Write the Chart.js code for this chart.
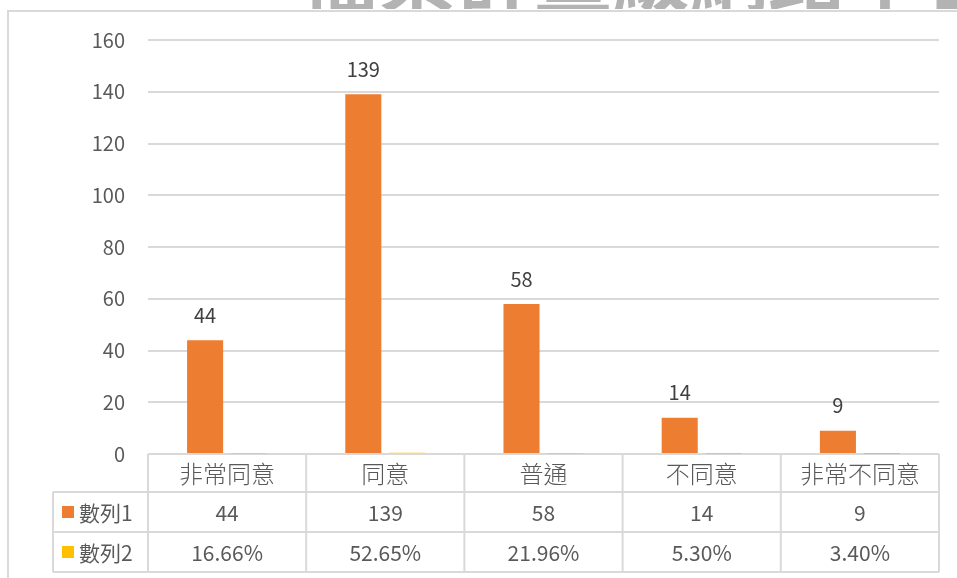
<!DOCTYPE html>
<html>
<head>
<meta charset="utf-8">
<script src="https://cdn.jsdelivr.net/npm/chart.js@4/dist/chart.umd.min.js"></script>
<style>
html,body{margin:0;padding:0;background:#fff;}
#wrap{width:957px;height:578px;position:relative;}
</style>
</head>
<body>
<div id="wrap"><canvas id="c" width="957" height="578"></canvas></div>
<script>
const categories = ['非常同意', '同意', '普通', '不同意', '非常不同意'];
const seriesNames = ['數列1', '數列2'];
const series1 = [44, 139, 58, 14, 9];
const series2 = [0.1666, 0.5265, 0.2196, 0.0530, 0.0340];
const series2Labels = ['16.66%', '52.65%', '21.96%', '5.30%', '3.40%'];
const yTicks = [0, 20, 40, 60, 80, 100, 120, 140, 160];
const watermark = '檔案計畫級網路平台';

const ORANGE = '#ED7D31', YELLOW = '#FFC000', GRID = '#d9d9d9', TXT = '#595959';
const FONT = '"Noto Sans CJK TC", "Noto Sans", sans-serif';

const framePlugin = {
  id: 'frame',
  beforeDraw(chart) {
    const ctx = chart.ctx;
    ctx.save();
    ctx.fillStyle = '#b3b3b3';
    ctx.font = 'bold 78px ' + FONT;
    ctx.textAlign = 'left';
    ctx.textBaseline = 'alphabetic';
    ctx.fillText(watermark, 300, 6);
    ctx.fillStyle = '#fff';
    ctx.fillRect(0, 9, 957, 569);
    ctx.strokeStyle = GRID;
    ctx.lineWidth = 2;
    ctx.beginPath();
    ctx.moveTo(8, 578); ctx.lineTo(8, 11); ctx.lineTo(957, 11);
    ctx.stroke();
    ctx.restore();
  }
};

const tablePlugin = {
  id: 'table',
  afterDraw(chart) {
    const ctx = chart.ctx;
    const xs = chart.scales.x;
    const area = chart.chartArea;
    const n = categories.length;
    const cw = (area.right - area.left) / n;
    const y0 = area.bottom, y1 = y0 + 38, y2 = y1 + 40, y3 = y2 + 40;
    const lx = 53;
    ctx.save();
    ctx.strokeStyle = GRID;
    ctx.lineWidth = 2;
    ctx.beginPath();
    [y1, y2, y3].forEach(y => { ctx.moveTo(lx, y); ctx.lineTo(area.right, y); });
    ctx.moveTo(lx, y1); ctx.lineTo(lx, y3);
    for (let i = 0; i <= n; i++) {
      const x = area.left + i * cw;
      ctx.moveTo(x, y0); ctx.lineTo(x, y3);
    }
    ctx.stroke();

    ctx.fillStyle = TXT;
    ctx.textAlign = 'center';
    ctx.textBaseline = 'middle';
    categories.forEach((c, i) => {
      const x = xs.getPixelForValue(i);
      ctx.font = '300 24px ' + FONT;
      ctx.fillText(c, x, (y0 + y1) / 2 + 1);
      ctx.font = '21px ' + FONT;
      ctx.fillText(String(series1[i]), x, (y1 + y2) / 2 + 1);
      ctx.fillText(series2Labels[i], x, (y2 + y3) / 2 + 1);
    });
    const keys = [ORANGE, YELLOW];
    [[y1, y2], [y2, y3]].forEach((r, k) => {
      const cy = (r[0] + r[1]) / 2;
      ctx.fillStyle = keys[k];
      ctx.fillRect(62, cy - 6, 12, 12);
      ctx.fillStyle = TXT;
      ctx.textAlign = 'left';
      ctx.font = '21px ' + FONT;
      ctx.fillText(seriesNames[k], 79, cy + 1);
    });
    const meta = chart.getDatasetMeta(0);
    ctx.fillStyle = '#404040';
    ctx.textAlign = 'center';
    ctx.font = '20px ' + FONT;
    meta.data.forEach((bar, i) => {
      ctx.fillText(String(series1[i]), bar.x, bar.y - 25);
    });
    ctx.restore();
  }
};

new Chart(document.getElementById('c'), {
  type: 'bar',
  data: {
    labels: categories,
    datasets: [
      { label: seriesNames[0], data: series1, backgroundColor: ORANGE, categoryPercentage: 0.556, barPercentage: 0.82 },
      { label: seriesNames[1], data: series2, backgroundColor: YELLOW, categoryPercentage: 0.556, barPercentage: 0.82 }
    ]
  },
  options: {
    responsive: false,
    animation: false,
    events: [],
    layout: { padding: { left: 8, right: 18, top: 40, bottom: 0 } },
    plugins: { legend: { display: false }, tooltip: { enabled: false } },
    scales: {
      x: {
        grid: { display: false, drawTicks: false },
        border: { display: false },
        ticks: { display: false },
        afterFit(s) { s.height = 124; }
      },
      y: {
        min: 0, max: 160,
        afterBuildTicks(s) { s.ticks = yTicks.map(v => ({ value: v })); },
        afterFit(s) { s.width = 140; },
        grid: { color: GRID, lineWidth: 2, drawTicks: false },
        border: { display: false },
        ticks: { padding: 23, color: TXT, font: { family: FONT, size: 20 } }
      }
    }
  },
  plugins: [framePlugin, tablePlugin]
});
</script>
</body>
</html>
